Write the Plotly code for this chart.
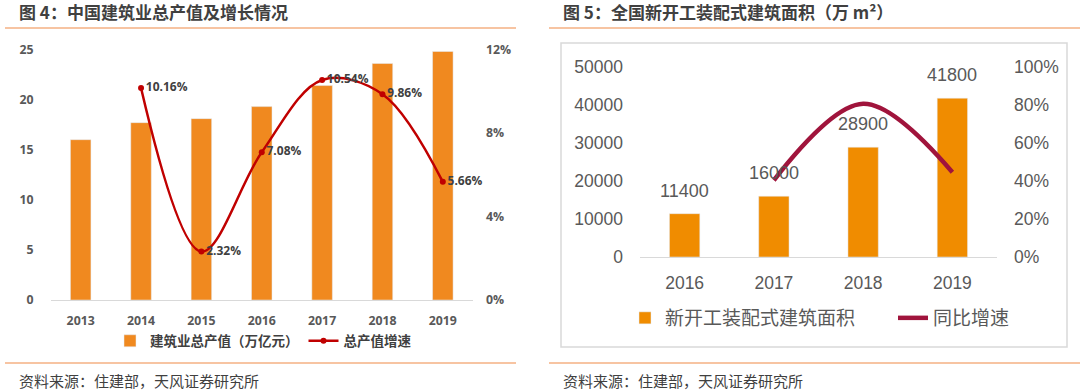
import plotly.graph_objects as go

# ---- Data: Figure 4 ----
years_a = ["2013", "2014", "2015", "2016", "2017", "2018", "2019"]
output_value = [16.0, 17.7, 18.1, 19.3, 21.4, 23.6, 24.8]          # 万亿元
growth_years_a = ["2014", "2015", "2016", "2017", "2018", "2019"]
growth_a = [0.1016, 0.0232, 0.0708, 0.1054, 0.0986, 0.0566]
growth_labels_a = ["10.16%", "2.32%", "7.08%", "10.54%", "9.86%", "5.66%"]

# ---- Data: Figure 5 ----
years_b = ["2016", "2017", "2018", "2019"]
area_b = [11400, 16000, 28900, 41800]                                 # 万 m²
growth_years_b = ["2017", "2018", "2019"]
growth_b = [0.404, 0.806, 0.446]

W, H = 1080, 391
def px(x):
    return x / W
def py(y):
    return 1 - y / H

GRAY = "#595959"
DARK = "#404040"
LINE_ORANGE = "#F4B183"

fig = go.Figure()

# Figure 4 traces
fig.add_trace(go.Bar(
    x=years_a, y=output_value, name="建筑业总产值（万亿元）",
    marker=dict(color="#F0891F"), xaxis="x", yaxis="y", legend="legend",
    hoverinfo="x+y"))
fig.add_trace(go.Scatter(
    x=growth_years_a, y=growth_a, name="总产值增速", mode="lines+markers+text",
    line=dict(color="#C00000", width=2.5, shape="spline", smoothing=1.0),
    marker=dict(color="#C00000", size=6),
    text=growth_labels_a, textposition="middle right",
    textfont=dict(family="Open Sans", size=12, color=DARK, weight="bold"),
    xaxis="x", yaxis="y2", legend="legend", cliponaxis=False))

# Figure 5 traces
fig.add_trace(go.Bar(
    x=years_b, y=area_b, name="新开工装配式建筑面积",
    marker=dict(color="#F08C00"), xaxis="x2", yaxis="y3", legend="legend2"))
fig.add_trace(go.Scatter(
    x=growth_years_b, y=growth_b, name="同比增速", mode="lines",
    line=dict(color="#A0143C", width=4.5, shape="spline", smoothing=1.0),
    xaxis="x2", yaxis="y4", legend="legend2", cliponaxis=False))

tick_a = dict(family="Open Sans", size=12.3, color=GRAY, weight="bold")
tick_b = dict(family="Liberation Sans", size=17.5, color=GRAY)

fig.update_layout(
    width=W, height=H,
    margin=dict(l=0, r=0, t=0, b=0, autoexpand=False),
    paper_bgcolor="white", plot_bgcolor="white",
    bargap=0.66,
    xaxis=dict(domain=[px(50.5), px(473)], anchor="y", type="category",
               showline=True, linecolor="#D9D9D9", linewidth=1,
               tickfont=tick_a, ticks="", ticklabelstandoff=9,
               automargin=False),
    yaxis=dict(domain=[py(300), py(49.5)], anchor="x", range=[0, 25], dtick=5,
               showgrid=False, zeroline=False, tickfont=tick_a,
               ticklabelstandoff=16, automargin=False),
    yaxis2=dict(overlaying="y", side="right", anchor="x", range=[0, 0.12],
                dtick=0.04, tickformat=".0%", showgrid=False, zeroline=False,
                tickfont=tick_a, ticklabelstandoff=12, automargin=False),
    xaxis2=dict(domain=[px(640), px(997)], anchor="y3", type="category",
                showline=True, linecolor="#D9D9D9", linewidth=1,
                tickfont=tick_b, ticks="", ticklabelstandoff=10,
                automargin=False),
    yaxis3=dict(domain=[py(257), py(67)], anchor="x2", range=[0, 50000],
                dtick=10000, tickformat="d", showgrid=False, zeroline=False,
                tickfont=tick_b, ticklabelstandoff=16, automargin=False),
    yaxis4=dict(overlaying="y3", side="right", anchor="x2", range=[0, 1],
                dtick=0.2, tickformat=".0%", showgrid=False, zeroline=False,
                tickfont=tick_b, ticklabelstandoff=16, automargin=False),
    legend=dict(orientation="h", x=px(110), y=py(341), xanchor="left",
                yanchor="middle", bgcolor="rgba(0,0,0,0)",
                font=dict(family="Noto Sans CJK SC", size=13.5, color=DARK,
                          weight="bold")),
    legend2=dict(orientation="h", x=px(625), y=py(318), xanchor="left",
                 yanchor="middle", bgcolor="rgba(0,0,0,0)", entrywidth=223,
                 font=dict(family="Noto Sans CJK SC", size=19, color=GRAY)),
    showlegend=True,
)

# Decorative frame lines and box
shapes = [
    dict(type="line", xref="paper", yref="paper", x0=px(5), x1=px(516),
         y0=py(28), y1=py(28), line=dict(color=LINE_ORANGE, width=1.5)),
    dict(type="line", xref="paper", yref="paper", x0=px(5), x1=px(516),
         y0=py(363), y1=py(363), line=dict(color=LINE_ORANGE, width=1.5)),
    dict(type="line", xref="paper", yref="paper", x0=px(549), x1=px(1080),
         y0=py(28), y1=py(28), line=dict(color=LINE_ORANGE, width=1.5)),
    dict(type="line", xref="paper", yref="paper", x0=px(549), x1=px(1080),
         y0=py(363), y1=py(363), line=dict(color=LINE_ORANGE, width=1.5)),
    dict(type="rect", xref="paper", yref="paper", x0=px(561), x1=px(1067),
         y0=py(347), y1=py(43), line=dict(color="#D9D9D9", width=1.5),
         layer="below"),
]
fig.update_layout(shapes=shapes)

title_font = dict(family="Noto Sans CJK SC", size=17, color=DARK, weight="bold")
src_font = dict(family="Noto Sans CJK SC", size=15, color=DARK)
annotations = [
    dict(text="图 4：中国建筑业总产值及增长情况", x=px(17), y=py(12),
         xref="paper", yref="paper", xanchor="left", yanchor="middle",
         showarrow=False, font=title_font),
    dict(text="图 5：全国新开工装配式建筑面积（万 m²）", x=px(561), y=py(12),
         xref="paper", yref="paper", xanchor="left", yanchor="middle",
         showarrow=False, font=title_font),
    dict(text="资料来源：住建部，天风证券研究所", x=px(17), y=py(380),
         xref="paper", yref="paper", xanchor="left", yanchor="middle",
         showarrow=False, font=src_font),
    dict(text="资料来源：住建部，天风证券研究所", x=px(561), y=py(380),
         xref="paper", yref="paper", xanchor="left", yanchor="middle",
         showarrow=False, font=src_font),
]
# value labels above the bars of figure 5 (x given as category index)
for i, v in enumerate(area_b):
    annotations.append(dict(
        text=str(v), x=i, y=v, xref="x2", yref="y3", xanchor="center",
        yanchor="middle", yshift=23, showarrow=False,
        font=dict(family="Liberation Sans", size=18, color=GRAY)))
fig.update_layout(annotations=annotations)

fig.write_html("out.html", config={"displayModeBar": False},
               post_script="document.body.style.margin='0px';")
